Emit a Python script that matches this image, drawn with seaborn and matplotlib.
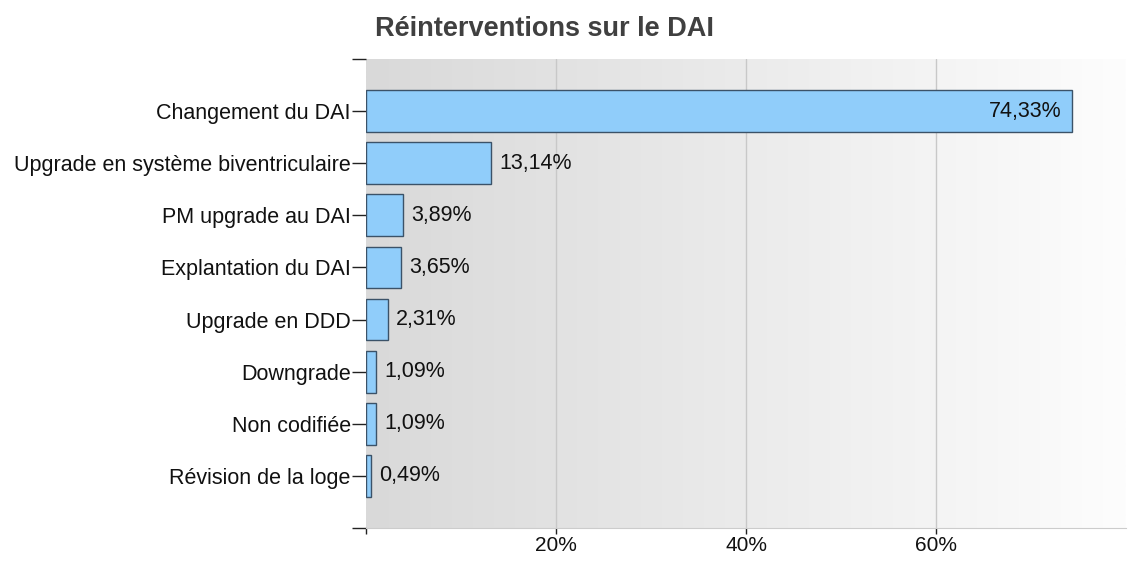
import numpy as np
import matplotlib
matplotlib.use('Agg')
import matplotlib.pyplot as plt
import seaborn as sns
from matplotlib.colors import LinearSegmentedColormap

categories = ['Changement du DAI', 'Upgrade en système biventriculaire', 'PM upgrade au DAI',
              'Explantation du DAI', 'Upgrade en DDD', 'Downgrade', 'Non codifiée',
              'Révision de la loge']
values = [74.33, 13.14, 3.89, 3.65, 2.31, 1.09, 1.09, 0.49]
value_labels = ['74,33%', '13,14%', '3,89%', '3,65%', '2,31%', '1,09%', '1,09%', '0,49%']
xticks = [0, 20, 40, 60]
xtick_labels = ['', '20%', '40%', '60%']

sns.set_style('white')
plt.rcParams['font.family'] = ['Liberation Sans', 'DejaVu Sans']

fig = plt.figure(figsize=(11.28, 5.61), dpi=100)
ax = fig.add_axes([366 / 1128, 1 - 528 / 561, (1126 - 366) / 1128, (528 - 59) / 561])

# background gradient grey -> white
cmap = LinearSegmentedColormap.from_list('bg', ['#d9d9d9', '#fdfdfd'])
grad = np.linspace(0, 1, 256).reshape(1, -1)
ax.imshow(grad, cmap=cmap, aspect='auto', extent=(0, 80, 8, -1), zorder=0)

for t in [20, 40, 60]:
    ax.axvline(t, color='#c8c8c8', lw=1, zorder=1)

sns.barplot(x=values, y=categories, orient='h', color='#90cdfa', edgecolor='#3b5268',
            linewidth=1, width=0.8, saturation=1, ax=ax, zorder=2)

ax.set_xlim(0, 80)
ax.set_ylim(8, -1)

for i, (v, lab) in enumerate(zip(values, value_labels)):
    if v > 50:
        ax.annotate(lab, (v, i), xytext=(-8, 0), textcoords='offset points',
                    ha='right', va='center', fontsize=15.5, color='#111111', zorder=3)
    else:
        ax.annotate(lab, (v, i), xytext=(6, 0), textcoords='offset points',
                    ha='left', va='center', fontsize=15.5, color='#111111', zorder=3)

ax.set_yticks(list(range(-1, 9)))
ax.set_yticklabels([''] + categories + [''])
ax.set_xticks(xticks)
ax.set_xticklabels(xtick_labels)
ax.tick_params(axis='y', left=True, length=10, width=1, color='#222222', labelsize=15.5,
               pad=1, labelcolor='#111111')
ax.tick_params(axis='x', bottom=True, length=4, width=1, color='#222222', labelsize=15,
               pad=2, labelcolor='#111111')
ax.set_xlabel('')
ax.set_ylabel('')

for s in ['top', 'right', 'left']:
    ax.spines[s].set_visible(False)
ax.spines['bottom'].set_color('#cccccc')

fig.suptitle('Réinterventions sur le DAI', x=0.483, y=0.972, fontsize=19.5, fontweight='bold',
             color='#404040')

fig.savefig('out.png', dpi=100)
